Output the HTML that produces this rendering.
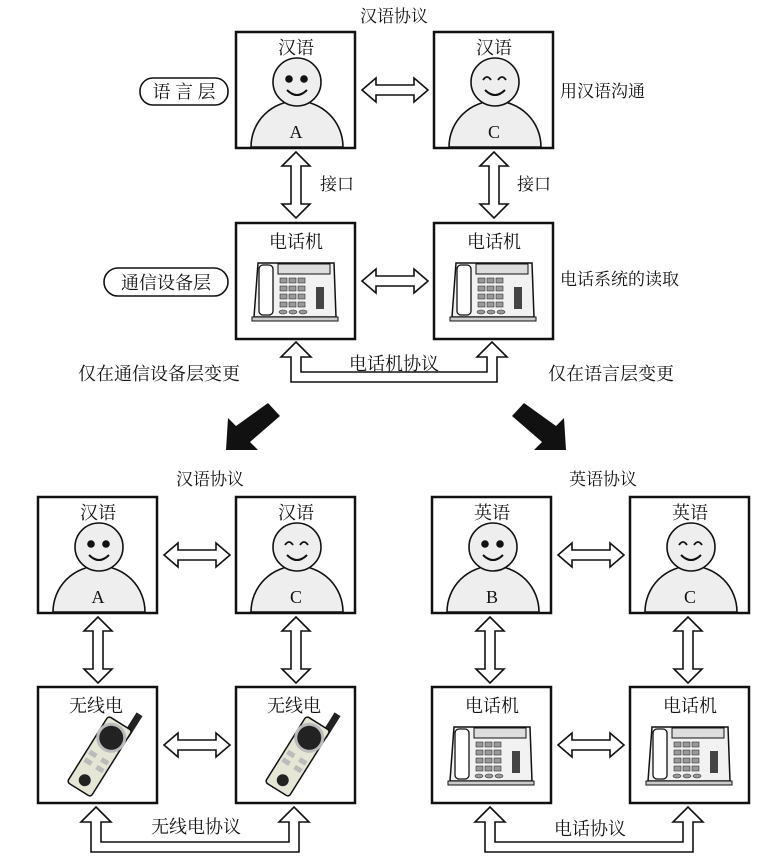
<!DOCTYPE html>
<html><head><meta charset="utf-8"><style>
html,body{margin:0;padding:0;background:#fff}
svg{display:block}
text{font-family:"Liberation Serif","Noto Serif CJK SC",serif;fill:#111}
.s{font-family:"Liberation Serif",serif}
</style></head><body>
<svg width="780" height="858" viewBox="0 0 780 858" xmlns="http://www.w3.org/2000/svg">
<defs>
<g id="box"><rect x="0" y="0" width="119" height="116" fill="#fff" stroke="#111" stroke-width="2.5"/></g>
<g id="pA">
 <path d="M15,115 A46,46 0 0 1 107,115 Z" fill="#eee" stroke="#111" stroke-width="1.6"/>
 <circle cx="61" cy="50" r="24" fill="#eee" stroke="#111" stroke-width="1.6"/>
 <circle cx="53" cy="47" r="3.8" fill="#111"/><circle cx="68" cy="47" r="3.8" fill="#111"/>
 <path d="M51,58 Q61,68 71,58" fill="none" stroke="#111" stroke-width="2"/>
</g>
<g id="pC">
 <path d="M15,115 A46,46 0 0 1 107,115 Z" fill="#eee" stroke="#111" stroke-width="1.6"/>
 <circle cx="61" cy="50" r="24" fill="#eee" stroke="#111" stroke-width="1.6"/>
 <path d="M49,48 Q53,42 57,48 M64,48 Q68,42 72,48" fill="none" stroke="#111" stroke-width="1.8"/>
 <path d="M51,58 Q61,68 71,58" fill="none" stroke="#111" stroke-width="2"/>
</g>
<g id="ph">
 <path d="M22,40 L98,40 L100,94 L18,94 Z" fill="#f2f2f2" stroke="#111" stroke-width="1.5"/>
 <rect x="16" y="94" width="86" height="4" fill="#ccc" stroke="#111" stroke-width="1"/>
 <rect x="23" y="42" width="14" height="50" rx="4" fill="#fff" stroke="#111" stroke-width="1.3"/>
 <rect x="42" y="41" width="52" height="10" fill="#ddd" stroke="#111" stroke-width="1"/>
 <g fill="#999" stroke="#333" stroke-width="0.6">
  <rect x="44" y="55" width="7" height="5"/><rect x="53" y="55" width="7" height="5"/><rect x="62" y="55" width="7" height="5"/>
  <rect x="44" y="63" width="7" height="5"/><rect x="53" y="63" width="7" height="5"/><rect x="62" y="63" width="7" height="5"/>
  <rect x="44" y="71" width="7" height="5"/><rect x="53" y="71" width="7" height="5"/><rect x="62" y="71" width="7" height="5"/>
  <rect x="44" y="79" width="7" height="5"/><rect x="53" y="79" width="7" height="5"/><rect x="62" y="79" width="7" height="5"/>
  <ellipse cx="47" cy="89" rx="4" ry="2"/><ellipse cx="57" cy="89" rx="4" ry="2"/><ellipse cx="67" cy="89" rx="4" ry="2"/>
 </g>
 <rect x="80" y="64" width="8" height="22" fill="#444"/>
</g>
<g id="rd">
 <g transform="rotate(32 60 72)">
  <rect x="68" y="12" width="7" height="26" fill="#222"/>
  <rect x="46" y="30" width="28" height="78" rx="3" fill="#e6e6d6" stroke="#111" stroke-width="1.5"/>
  <circle cx="60" cy="47" r="15" fill="#bbb"/>
  <circle cx="60" cy="47" r="12" fill="#222"/>
  <rect x="49" y="68" width="8" height="5" fill="#bbb"/><rect x="63" y="68" width="8" height="5" fill="#bbb"/>
  <rect x="49" y="77" width="8" height="5" fill="#bbb"/><rect x="63" y="77" width="8" height="5" fill="#bbb"/>
  <circle cx="60" cy="97" r="6" fill="#222"/>
 </g>
</g>
<path id="ha" d="M0,0 L14,-12 L14,-5 L52,-5 L52,-12 L66,0 L52,12 L52,5 L14,5 L14,12 Z" fill="#fff" stroke="#111" stroke-width="1.6"/>
<path id="va" d="M0,0 L-14,14 L-5,14 L-5,52 L-14,52 L0,66 L14,52 L5,52 L5,14 L14,14 Z" fill="#fff" stroke="#111" stroke-width="1.6"/>
</defs>

<text x="394" y="22" font-size="17" text-anchor="middle">汉语协议</text>
<use href="#box" x="236" y="32"/><use href="#pA" x="236" y="32"/>
<use href="#box" x="434" y="32"/><use href="#pC" x="434" y="32"/>
<text x="296" y="54" font-size="18" text-anchor="middle">汉语</text>
<text x="494" y="54" font-size="18" text-anchor="middle">汉语</text>
<text x="296" y="138" font-size="18" class="s" text-anchor="middle">A</text>
<text x="494" y="138" font-size="18" class="s" text-anchor="middle">C</text>
<use href="#ha" x="362" y="90"/>
<rect x="140" y="78" width="88" height="27" rx="13" fill="#fff" stroke="#111" stroke-width="1.6"/>
<text x="184" y="98" font-size="18" text-anchor="middle">语 言 层</text>
<text x="560" y="97" font-size="17">用汉语沟通</text>

<use href="#va" x="296" y="152"/><use href="#va" x="494" y="152"/>
<text x="320" y="190" font-size="17">接口</text>
<text x="517" y="190" font-size="17">接口</text>

<use href="#box" x="236" y="223"/><use href="#ph" x="236" y="223"/>
<use href="#box" x="434" y="223"/><use href="#ph" x="434" y="223"/>
<text x="296" y="248" font-size="18" text-anchor="middle">电话机</text>
<text x="494" y="248" font-size="18" text-anchor="middle">电话机</text>
<use href="#ha" x="362" y="281"/>
<rect x="104" y="268" width="124" height="28" rx="14" fill="#fff" stroke="#111" stroke-width="1.6"/>
<text x="166" y="289" font-size="18" text-anchor="middle">通信设备层</text>
<text x="560" y="285" font-size="17">电话系统的读取</text>

<path d="M296,342 L311,357 L301,357 L301,372 L487,372 L487,357 L477,357 L492,342 L507,357 L497,357 L497,382 L291,382 L291,357 L281,357 Z" fill="#fff" stroke="#111" stroke-width="1.6"/>
<text x="394" y="370" font-size="18" text-anchor="middle">电话机协议</text>
<text x="78" y="380" font-size="18">仅在通信设备层变更</text>
<text x="548" y="380" font-size="18">仅在语言层变更</text>

<path d="M268,403 L280,416 L250,442 L258,450 L226,450 L228,418 L236,426 Z" fill="#111"/>
<path d="M524,403 L512,416 L542,442 L534,450 L566,450 L564,418 L556,426 Z" fill="#111"/>

<text x="210" y="485" font-size="17" text-anchor="middle">汉语协议</text>
<use href="#box" x="38" y="497"/><use href="#pA" x="38" y="497"/>
<use href="#box" x="236" y="497"/><use href="#pC" x="236" y="497"/>
<text x="98" y="519" font-size="18" text-anchor="middle">汉语</text>
<text x="296" y="519" font-size="18" text-anchor="middle">汉语</text>
<text x="98" y="603" font-size="18" class="s" text-anchor="middle">A</text>
<text x="296" y="603" font-size="18" class="s" text-anchor="middle">C</text>
<use href="#ha" x="164" y="555"/>
<use href="#va" x="98" y="617"/><use href="#va" x="296" y="617"/>
<use href="#box" x="38" y="687"/><use href="#rd" x="38" y="687"/>
<use href="#box" x="236" y="687"/><use href="#rd" x="236" y="687"/>
<text x="96" y="712" font-size="18" text-anchor="middle">无线电</text>
<text x="294" y="712" font-size="18" text-anchor="middle">无线电</text>
<use href="#ha" x="164" y="745"/>
<path d="M96,807 L111,822 L101,822 L101,842 L289,842 L289,822 L279,822 L294,807 L309,822 L299,822 L299,852 L91,852 L91,822 L81,822 Z" fill="#fff" stroke="#111" stroke-width="1.6"/>
<text x="196" y="833" font-size="18" text-anchor="middle">无线电协议</text>

<text x="603" y="485" font-size="17" text-anchor="middle">英语协议</text>
<use href="#box" x="432" y="497"/><use href="#pA" x="432" y="497"/>
<use href="#box" x="630" y="497"/><use href="#pC" x="630" y="497"/>
<text x="492" y="519" font-size="18" text-anchor="middle">英语</text>
<text x="690" y="519" font-size="18" text-anchor="middle">英语</text>
<text x="492" y="603" font-size="18" class="s" text-anchor="middle">B</text>
<text x="690" y="603" font-size="18" class="s" text-anchor="middle">C</text>
<use href="#ha" x="558" y="555"/>
<use href="#va" x="490" y="617"/><use href="#va" x="688" y="617"/>
<use href="#box" x="432" y="687"/><use href="#ph" x="432" y="687"/>
<use href="#box" x="630" y="687"/><use href="#ph" x="630" y="687"/>
<text x="492" y="712" font-size="18" text-anchor="middle">电话机</text>
<text x="690" y="712" font-size="18" text-anchor="middle">电话机</text>
<use href="#ha" x="558" y="745"/>
<path d="M490,807 L505,822 L495,822 L495,842 L683,842 L683,822 L673,822 L688,807 L703,822 L693,822 L693,852 L485,852 L485,822 L475,822 Z" fill="#fff" stroke="#111" stroke-width="1.6"/>
<text x="590" y="835" font-size="18" text-anchor="middle">电话协议</text>
</svg>
</body></html>
